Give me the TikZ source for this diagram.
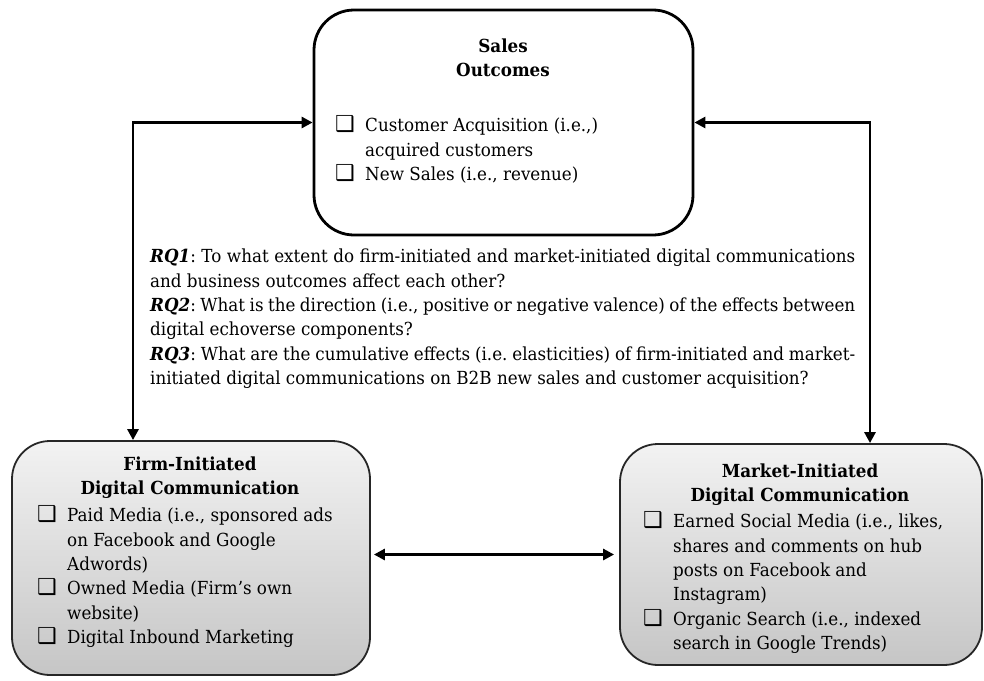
\documentclass[tikz,border=0pt]{standalone}
\usepackage{fontspec}
\setmainfont{DejaVu Serif}[FakeStretch=0.93]
\newfontfamily\dingfont{DejaVu Sans}
\usetikzlibrary{arrows.meta}

\newcommand{\boxfont}{\fontsize{18}{24.3}\selectfont}
\tikzset{
  outbox/.style={draw=black, line width=2.8pt, rounded corners=40pt, fill=white},
  chanbox/.style={draw=black!85, line width=1.8pt, rounded corners=38pt,
    top color=gray!10, bottom color=gray!45},
  link/.style={line width=2.8pt,
    {Triangle[length=11pt,width=11pt]}-{Triangle[length=11pt,width=11pt]}},
  head/.style={font=\boxfont\bfseries, align=center, inner sep=0pt},
  items/.style={align=left, anchor=north west, inner sep=0pt},
}
\newcommand{\chk}{\makebox[30pt][l]{\smash{\dingfont\fontsize{22}{15}\selectfont ❑}}}
\newcommand{\ind}{\hspace*{30pt}}
\newcommand{\fullline}[1]{\makebox[705pt][s]{#1}}

\begin{document}
\frenchspacing
\begin{tikzpicture}[x=1pt, y=-1pt, font=\boxfont]
\useasboundingbox (0,0) rectangle (984,680);

% boxes
\node[outbox, minimum width=379pt, minimum height=225pt] (sales) at (503.5,122.5) {};
\node[chanbox, minimum width=358pt, minimum height=234pt] (firm) at (191,558) {};
\node[chanbox, minimum width=362pt, minimum height=221pt] (market) at (801,554.5) {};

% sales outcomes
\node[head] (salestitle) at (503,57.5) {Sales\\Outcomes};
\node[items] (saleslist) at (335,118) {\chk Customer Acquisition (i.e.,)\\
  \ind acquired customers\\
  \chk New Sales (i.e., revenue)};

% firm-initiated
\node[head] (firmtitle) at (190,477.5) {Firm-Initiated\\Digital Communication};
\node[items] (firmlist) at (37,508) {\chk Paid Media (i.e., sponsored ads\\
  \ind on Facebook and Google\\
  \ind Adwords)\\
  \chk Owned Media (Firm’s own\\
  \ind website)\\
  \chk Digital Inbound Marketing};

% market-initiated
\node[head] (markettitle) at (800,484.5) {Market-Initiated\\Digital Communication};
\node[items] (marketlist) at (643,514) {\chk Earned Social Media (i.e., likes,\\
  \ind shares and comments on hub\\
  \ind posts on Facebook and\\
  \ind Instagram)\\
  \chk Organic Search (i.e., indexed\\
  \ind search in Google Trends)};

% research questions
\node[items] (rq) at (150,249) {%
  \fullline{\textbf{\textit{RQ1}}: To what extent do firm-initiated and market-initiated digital communications}\\
  and business outcomes affect each other?\\
  \fullline{\textbf{\textit{RQ2}}: What is the direction (i.e., positive or negative valence) of the effects between}\\
  digital echoverse components?\\
  \fullline{\textbf{\textit{RQ3}}: What are the cumulative effects (i.e. elasticities) of firm-initiated and market-}\\
  initiated digital communications on B2B new sales and customer acquisition?};

% links
\draw[link] (sales.west) -| ([xshift=-58pt]firm.north);
\draw[link] (sales.east) -| ([xshift=69pt]market.north);
\draw[link] ([xshift=3pt]firm.east |- market.west) -- ([xshift=-5pt]market.west);
\end{tikzpicture}
\end{document}
